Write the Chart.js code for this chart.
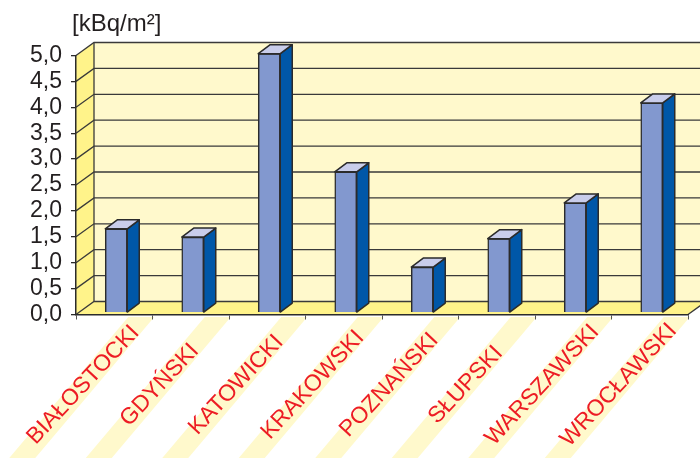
<!DOCTYPE html>
<html>
<head>
<meta charset="utf-8">
<script src="https://cdn.jsdelivr.net/npm/chart.js@4"></script>
<style>
html,body{margin:0;padding:0;background:#fff;}
#wrap{width:700px;height:458px;}
</style>
</head>
<body>
<div id="wrap"><canvas id="chart" width="700" height="458"></canvas></div>
<script>
// data
const categories = ['BIAŁOSTOCKI','GDYŃSKI','KATOWICKI','KRAKOWSKI','POZNAŃSKI','SŁUPSKI','WARSZAWSKI','WROCŁAWSKI'];
const deposition = [1.62, 1.46, 5.0, 2.72, 0.88, 1.43, 2.12, 4.05];
const yTicks = [0, 0.5, 1.0, 1.5, 2.0, 2.5, 3.0, 3.5, 4.0, 4.5, 5.0];
const unitLabel = '[kBq/m²]';

// 3d look
const wallDepth = {dx: 18, dy: -13};
const barDepth = {dx: 12, dy: -9};
const barShift = {dx: 2, dy: -1.8};
const FONT = '"Liberation Sans", Arial, sans-serif';

function poly(ctx, pts){
  ctx.beginPath();
  ctx.moveTo(pts[0][0], pts[0][1]);
  for (let i = 1; i < pts.length; i++) ctx.lineTo(pts[i][0], pts[i][1]);
  ctx.closePath();
}

const threeD = {
  id: 'threeD',
  beforeDraw(chart){
    const ctx = chart.ctx, a = chart.chartArea, y = chart.scales.y, x = chart.scales.x;
    const dx = wallDepth.dx, dy = wallDepth.dy;
    ctx.save();
    // label bands
    ctx.fillStyle = '#FFF9CC';
    const bandTop = a.bottom + 2.5, bandBot = chart.height + 2, slope = 119/141;
    categories.forEach((c, i) => {
      const tx = x.getPixelForTick(i);
      const xt = tx + 27, xb = tx + 27 - (bandBot - 317) * slope;
      poly(ctx, [[xt - 13, bandTop], [xt + 13, bandTop], [xb + 13, bandBot], [xb - 13, bandBot]]);
      ctx.fill();
    });
    // back wall
    ctx.fillStyle = '#FFF9CC';
    ctx.fillRect(a.left + dx, a.top + dy, chart.width, a.bottom - a.top);
    // side wall + floor
    ctx.fillStyle = '#FFF38A';
    poly(ctx, [[a.left, a.top], [a.left + dx, a.top + dy], [a.left + dx, a.bottom + dy], [a.left, a.bottom]]);
    ctx.fill();
    poly(ctx, [[a.left, a.bottom], [a.left + dx, a.bottom + dy], [a.right + dx, a.bottom + dy], [a.right, a.bottom]]);
    ctx.fill();
    // grid on walls
    ctx.strokeStyle = '#3a3a3a';
    ctx.lineWidth = 1.3;
    yTicks.forEach(v => {
      const py = y.getPixelForValue(v);
      ctx.beginPath();
      ctx.moveTo(a.left, py);
      ctx.lineTo(a.left + dx, py + dy);
      ctx.lineTo(chart.width + 5, py + dy);
      ctx.stroke();
    });
    ctx.beginPath();
    ctx.moveTo(a.left + dx, a.top + dy);
    ctx.lineTo(a.left + dx, a.bottom + dy);
    ctx.moveTo(a.right, a.bottom);
    ctx.lineTo(a.right + dx, a.bottom + dy);
    ctx.stroke();
    ctx.restore();
  },
  beforeDatasetsDraw(chart){
    chart.ctx.save();
    chart.ctx.translate(barShift.dx, barShift.dy);
  },
  afterDatasetsDraw(chart){
    const ctx = chart.ctx;
    const {dx, dy} = barDepth;
    ctx.lineWidth = 1.5;
    ctx.strokeStyle = '#2b2b2b';
    ctx.lineJoin = 'round';
    chart.getDatasetMeta(0).data.forEach(bar => {
      const l = bar.x - bar.width / 2, r = bar.x + bar.width / 2, t = bar.y, b = bar.base;
      ctx.fillStyle = '#0057A8';
      poly(ctx, [[r, t], [r + dx, t + dy], [r + dx, b + dy], [r, b]]);
      ctx.fill(); ctx.stroke();
      ctx.fillStyle = '#C9CDEB';
      poly(ctx, [[l, t], [l + dx, t + dy], [r + dx, t + dy], [r, t]]);
      ctx.fill(); ctx.stroke();
    });
    ctx.restore();
  },
  afterDraw(chart){
    const ctx = chart.ctx, x = chart.scales.x;
    ctx.save();
    // unit
    ctx.fillStyle = '#231f20';
    ctx.font = '24px ' + FONT;
    ctx.textAlign = 'left';
    ctx.textBaseline = 'alphabetic';
    ctx.fillText(unitLabel, 72, 31);
    // category labels
    ctx.fillStyle = '#ED1C24';
    ctx.font = '23px ' + FONT;
    ctx.textAlign = 'center';
    ctx.textBaseline = 'middle';
    categories.forEach((c, i) => {
      const tx = x.getPixelForTick(i);
      ctx.save();
      ctx.translate(tx - 31, 385);
      ctx.rotate(-47 * Math.PI / 180);
      ctx.fillText(c, 0, 0);
      ctx.restore();
    });
    ctx.restore();
  }
};

new Chart(document.getElementById('chart'), {
  type: 'bar',
  data: {
    labels: categories,
    datasets: [{
      data: deposition,
      backgroundColor: '#8298CF',
      borderColor: '#2b2b2b',
      borderWidth: 1.5,
      barThickness: 22,
      clip: false
    }]
  },
  options: {
    responsive: false,
    devicePixelRatio: 1,
    animation: false,
    layout: {padding: {top: 55.5, right: 12, left: 0, bottom: 0}},
    plugins: {legend: {display: false}, tooltip: {enabled: false}, title: {display: false}},
    scales: {
      x: {
        offset: true,
        grid: {offset: true, drawOnChartArea: false, drawTicks: true, tickLength: 5, color: '#555', lineWidth: 1},
        border: {display: true, color: '#2b2b2b', width: 1.5},
        ticks: {display: false},
        afterFit: s => { s.height = 143.5; }
      },
      y: {
        min: 0,
        max: 5,
        afterBuildTicks: s => { s.ticks = yTicks.map(v => ({value: v})); },
        grid: {drawOnChartArea: false, drawTicks: true, tickLength: 5, color: '#2b2b2b', lineWidth: 1.3},
        border: {display: true, color: '#2b2b2b', width: 1.5},
        ticks: {
          autoSkip: false,
          padding: 9,
          color: '#231f20',
          font: {size: 23, family: FONT},
          callback: v => v.toFixed(1).replace('.', ',')
        },
        afterFit: s => { s.width = 76; }
      }
    }
  },
  plugins: [threeD]
});
</script>
</body>
</html>
